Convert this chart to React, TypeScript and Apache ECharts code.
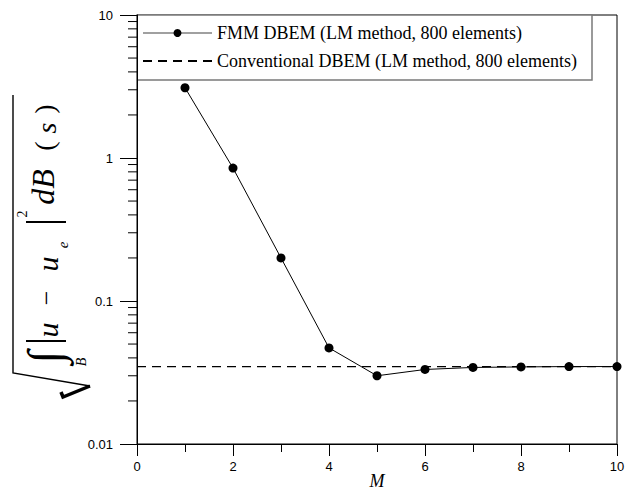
import React, { useEffect, useRef } from "react";
import * as echarts from "echarts";

// Number of multipole expansion terms
const mValues = [1, 2, 3, 4, 5, 6, 7, 8, 9, 10];
// Error norm of the FMM DBEM solution
const fmmError = [3.1, 0.85, 0.2, 0.047, 0.030, 0.0332, 0.0343, 0.0346, 0.0348, 0.0348];
// Error norm of the conventional DBEM solution (constant over M)
const conventionalError = 0.0348;
const conventionalRange = [0, 10];

const xTicks = [0, 2, 4, 6, 8, 10];
const yDecades = [0.01, 0.1, 1, 10];
const minorMultipliers = [2, 3, 4, 5, 6, 7, 8, 9];

const fmmName = "FMM DBEM (LM method, 800 elements)";
const convName = "Conventional DBEM (LM method, 800 elements)";

const SERIF = "'Liberation Serif', 'Times New Roman', serif";
const SANS = "'Liberation Sans', Arial, sans-serif";

// pieces of the rotated y-axis formula: text, centre x, centre y, size, italic
const labelPieces: [string, number, number, number, boolean][] = [
  ["∫", 44, 357, 48, false],
  ["B", 81, 362, 14, true],
  ["u", 47, 330, 30, true],
  ["−", 46, 298, 26, false],
  ["u", 47, 264, 30, true],
  ["e", 63, 245, 15, true],
  ["2", 22, 214, 14, false],
  ["dB", 43, 187, 32, true],
  ["(", 44, 146, 28, false],
  ["s", 46, 128, 28, true],
  [")", 44, 109, 28, false],
];
const labelBars = [341, 222];

export default function App() {
  const ref = useRef<HTMLDivElement>(null);

  useEffect(() => {
    if (!ref.current) return;
    const chart = echarts.init(ref.current, null, { renderer: "svg" });

    const minorTickValues: number[][] = [];
    yDecades.slice(0, -1).forEach((d) => {
      minorMultipliers.forEach((k) => minorTickValues.push([0, d * k]));
    });

    const formulaGraphics: any[] = labelPieces.map(([t, x, y, size, italic]) => ({
      type: "text",
      x,
      y,
      rotation: Math.PI / 2,
      style: {
        text: t,
        fontFamily: SERIF,
        fontSize: size,
        fontStyle: italic ? "italic" : "normal",
        fill: "#000",
        align: "center",
        verticalAlign: "middle",
      },
    }));
    labelBars.forEach((y) => {
      formulaGraphics.push({
        type: "line",
        shape: { x1: 26, y1: y, x2: 66, y2: y },
        style: { stroke: "#000", lineWidth: 1.8 },
      });
    });
    // radical sign
    formulaGraphics.push({
      type: "polyline",
      shape: { points: [[13, 95], [13, 373], [90, 386]] },
      style: { stroke: "#000", lineWidth: 1.4, fill: "none" },
    });
    formulaGraphics.push({
      type: "polyline",
      shape: { points: [[90, 386], [63, 397], [61, 392]] },
      style: { stroke: "#000", lineWidth: 3.5, fill: "none" },
    });

    chart.setOption({
      animation: false,
      backgroundColor: "#fff",
      grid: {
        left: 137,
        right: 9,
        top: 15,
        bottom: 51,
        outerBoundsMode: "none",
        containLabel: false,
        show: true,
        borderColor: "#000",
        borderWidth: 1,
        backgroundColor: "transparent",
      },
      legend: {
        left: 142,
        top: 23,
        orient: "vertical",
        padding: 0,
        itemWidth: 69,
        itemHeight: 10,
        itemGap: 8,
        textStyle: { fontFamily: SERIF, fontSize: 18, color: "#000", lineHeight: 20 },
        data: [
          { name: fmmName, lineStyle: { color: "#808080", width: 1.5 } },
          { name: convName, itemStyle: { opacity: 0 } },
        ],
      },
      xAxis: {
        type: "value",
        min: 0,
        max: 10,
        interval: 2,
        name: "M",
        nameLocation: "middle",
        nameMoveOverlap: false,
        nameGap: 28,
        nameTextStyle: {
          fontFamily: SERIF,
          fontStyle: "italic",
          fontSize: 18,
          lineHeight: 18,
          color: "#000",
        },
        axisLine: { show: true, lineStyle: { color: "#000", width: 1 } },
        axisTick: { show: true, inside: false, length: 12, lineStyle: { color: "#000" } },
        minorTick: { show: true, splitNumber: 2, length: 8, lineStyle: { color: "#000" } },
        splitLine: { show: false },
        axisLabel: {
          fontFamily: SANS,
          fontSize: 13,
          color: "#000",
          margin: 16,
          formatter: (v: number) => (xTicks.includes(v) ? String(v) : ""),
        },
      },
      yAxis: {
        type: "log",
        logBase: 10,
        min: yDecades[0],
        max: yDecades[yDecades.length - 1],
        axisLine: { show: true, lineStyle: { color: "#000", width: 1 } },
        axisTick: { show: true, inside: false, length: 17, lineStyle: { color: "#000" } },
        splitLine: { show: false },
        axisLabel: {
          fontFamily: SANS,
          fontSize: 13,
          color: "#000",
          margin: 24,
          formatter: (v: number) => {
            const d = yDecades.find((x) => Math.abs(Math.log10(x) - Math.log10(v)) < 1e-6);
            return d !== undefined ? String(d) : "";
          },
        },
      },
      graphic: [
        {
          type: "rect",
          z: 0,
          shape: { x: 137, y: 15, width: 455, height: 65 },
          style: { fill: "#fff", stroke: "#7a7a7a", lineWidth: 1.5 },
        },
        ...formulaGraphics,
      ],
      series: [
        {
          name: convName,
          type: "line",
          data: conventionalRange.map((m) => [m, conventionalError]),
          symbol: "none",
          lineStyle: { color: "#000", width: 1.3, type: [9, 6] },
          itemStyle: { color: "#000" },
          z: 3,
        },
        {
          name: fmmName,
          type: "line",
          data: mValues.map((m, i) => [m, fmmError[i]]),
          symbol: "circle",
          symbolSize: 9,
          clip: false,
          lineStyle: { color: "#000", width: 1 },
          itemStyle: { color: "#000" },
          z: 4,
        },
        {
          type: "custom",
          silent: true,
          clip: false,
          data: minorTickValues,
          renderItem: (_params: any, api: any) => {
            const p = api.coord([api.value(0), api.value(1)]);
            return {
              type: "line",
              shape: { x1: p[0] - 9, y1: p[1], x2: p[0], y2: p[1] },
              style: { stroke: "#000", lineWidth: 1 },
            };
          },
        },
      ],
    });

    return () => chart.dispose();
  }, []);

  return (
    <div
      ref={ref}
      style={{ position: "fixed", left: 0, top: 0, width: 626, height: 495 }}
    />
  );
}
